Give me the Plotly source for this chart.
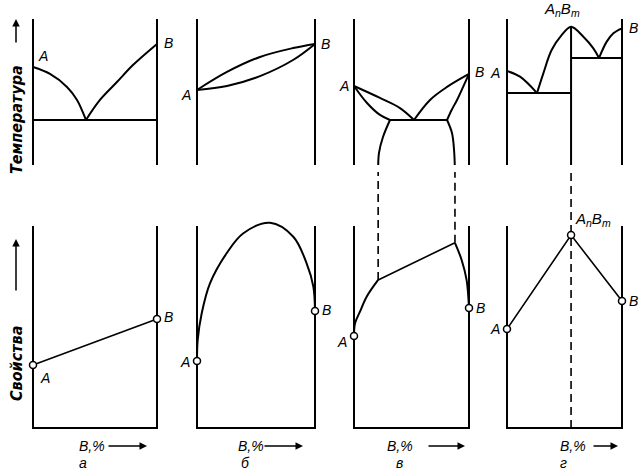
import plotly.graph_objects as go

W, H = 644, 475

# ---------------- data (composition, % B; temperature / property in relative units) ----------------
# panel а – simple eutectic
a_liq_left_x = [0, 13.7, 27.4, 35.5, 42.7]
a_liq_left_t = [68.6, 64.1, 55.6, 47.1, 34.0]
a_liq_right_x = [42.7, 54.0, 67.7, 80.6, 100]
a_liq_right_t = [34.0, 47.1, 58.8, 69.9, 83.7]
a_eut_x = [0, 100]
a_eut_t = [34.0, 34.0]
a_prop_x = [0, 100]
a_prop_y = [31.2, 54.0]

# panel б – continuous solid solutions
b_liq_x = [0, 25.4, 53.4, 81.4, 100]
b_liq_t = [53.6, 65.4, 75.2, 81.0, 83.7]
b_sol_x = [0, 25.4, 53.4, 81.4, 100]
b_sol_t = [53.6, 56.2, 62.7, 73.2, 83.7]
b_prop_x = [0, 0.6, 4.0, 11.0, 25.1, 39.3, 61.9, 81.6, 92.9, 98.6, 100]
b_prop_y = [33.2, 43.6, 56.8, 71.6, 86.5, 96.4, 101.6, 94.7, 81.5, 70.0, 57.9]

# panel в – limited solid solutions with eutectic
c_liq_left_x = [0, 22.6, 40.0, 52.2]
c_liq_left_t = [56.2, 48.4, 41.8, 34.0]
c_sol_left_x = [0, 11.3, 22.6, 31.3]
c_sol_left_t = [56.2, 45.1, 37.3, 34.0]
c_liq_right_x = [52.2, 66.1, 80.9, 100]
c_liq_right_t = [34.0, 47.1, 55.6, 64.1]
c_sol_right_x = [80.9, 84.9, 89.6, 95.0, 100]
c_sol_right_t = [34.0, 40.5, 47.1, 55.8, 64.1]
c_eut_x = [31.3, 80.9]
c_eut_t = [34.0, 34.0]
c_solv_left_x = [31.3, 25.2, 21.7, 21.0]
c_solv_left_t = [34.0, 22.9, 12.4, 0]
c_solv_right_x = [80.9, 85.2, 87.0, 87.8]
c_solv_right_t = [34.0, 25.5, 14.4, 0]
c_prop_left_x = [0, 0.9, 5.2, 11.0, 21.0]
c_prop_left_y = [45.5, 51.8, 57.6, 65.0, 73.3]
c_prop_mid_x = [21.0, 87.8]
c_prop_mid_y = [73.3, 91.7]
c_prop_right_x = [87.8, 93.6, 97.9, 100]
c_prop_right_y = [91.7, 83.2, 73.3, 59.4]

# panel г – chemical compound AnBm
d_comp = 55.7
d_liq1_x = [0, 11.3, 26.1]
d_liq1_t = [66.0, 62.3, 51.6]
d_liq2_x = [26.1, 31.6, 38.8, 47.5, 55.7, 66.4, 75.1, 80.0]
d_liq2_t = [51.6, 64.5, 79.7, 89.5, 95.0, 88.4, 80.8, 74.5]
d_liq3_x = [80.0, 86.7, 92.5, 100]
d_liq3_t = [74.5, 85.2, 90.7, 93.9]
d_eut1_x = [0, d_comp]
d_eut1_t = [51.6, 51.6]
d_eut2_x = [d_comp, 100]
d_eut2_t = [74.5, 74.5]
d_prop_x = [0, d_comp, 100]
d_prop_y = [49.0, 95.5, 62.9]

x_letters = ["а", "б", "в", "г"]
x_caption = "B,%"
y_titles = ["Температура", "Свойства"]

# ---------------- layout geometry (pixels) ----------------
panel_px = [(33, 157), (197, 315), (354, 469), (507, 622)]
top_y100, top_y0 = 19, 172
bot_y100, bot_y0 = 226, 428
XR = (-6, 106)
TR = (-6, 106)
t_scale = (top_y0 - top_y100) / 100.0
p_scale = (bot_y0 - bot_y100) / 100.0
link_val = (bot_y0 - top_y0) / p_scale          # bottom edge of upper panels, in lower-panel units
PR = (-6, (bot_y0 - 165) / p_scale)

FONT = "Liberation Sans, Arial, sans-serif"
TFONT = "Liberation Sans Narrow, DejaVu Sans Condensed, Liberation Sans, sans-serif"
LS = 14

fig = go.Figure()


def ax(i):
    return ("x" if i == 1 else f"x{i}"), ("y" if i == 1 else f"y{i}")


def line(i, xs, ys, width=2.0, dash="solid", shape="linear"):
    xa, ya = ax(i)
    fig.add_trace(go.Scatter(x=xs, y=ys, xaxis=xa, yaxis=ya, mode="lines",
                             line=dict(color="black", width=width, dash=dash, shape=shape,
                                       smoothing=1.0),
                             hoverinfo="skip", showlegend=False))


def dots(i, xs, ys):
    xa, ya = ax(i)
    fig.add_trace(go.Scatter(x=xs, y=ys, xaxis=xa, yaxis=ya, mode="markers",
                             marker=dict(symbol="circle", size=7, color="white",
                                         line=dict(color="black", width=1.5)),
                             cliponaxis=False, hoverinfo="skip", showlegend=False))


def label(i, x, y, text, xanchor="left", xshift=0, yshift=0, size=LS):
    xa, ya = ax(i)
    fig.add_annotation(x=x, y=y, xref=xa, yref=ya, text=f"<i>{text}</i>", showarrow=False,
                       xanchor=xanchor, yanchor="middle", xshift=xshift, yshift=yshift,
                       font=dict(size=size, family=FONT, color="black"))


def arrow(x_head, y_head, dx, dy):
    fig.add_annotation(x=x_head / W, y=1 - y_head / H, xref="paper", yref="paper", text="",
                       showarrow=True, ax=dx, ay=dy, axref="pixel", ayref="pixel",
                       arrowhead=2, arrowsize=1, arrowwidth=1.5, arrowcolor="black")


layout_axes = {}
for k, (l, r) in enumerate(panel_px):
    sx = (r - l) / 100.0
    xd = [(l + XR[0] * sx) / W, (l + XR[1] * sx) / W]
    for row in (0, 1):
        i = k + 1 + 4 * row
        xa, ya = ax(i)
        xname = "xaxis" if i == 1 else f"xaxis{i}"
        yname = "yaxis" if i == 1 else f"yaxis{i}"
        if row == 0:
            yd = [1 - (top_y0 - TR[0] * t_scale) / H, 1 - (top_y0 - TR[1] * t_scale) / H]
            yr = list(TR)
        else:
            yd = [1 - (bot_y0 - PR[0] * p_scale) / H, 1 - (bot_y0 - PR[1] * p_scale) / H]
            yr = list(PR)
        layout_axes[xname] = dict(domain=xd, range=list(XR), visible=False, anchor=ya)
        layout_axes[yname] = dict(domain=yd, range=yr, visible=False, anchor=xa)

# boxes
for i in range(1, 9):
    line(i, [0, 0, 100, 100], [100, 0, 0, 100], width=2)

# ---- а ----
line(1, a_liq_left_x, a_liq_left_t, shape="spline")
line(1, a_liq_right_x, a_liq_right_t, shape="spline")
line(1, a_eut_x, a_eut_t)
line(5, a_prop_x, a_prop_y, width=1.6)
dots(5, a_prop_x, a_prop_y)
label(1, 0, a_liq_left_t[0], "A", xshift=3, yshift=11)
label(1, 100, a_liq_right_t[-1], "B", xshift=5, yshift=1)
label(5, 0, a_prop_y[0], "A", xshift=5, yshift=-13)
label(5, 100, a_prop_y[1], "B", xshift=5, yshift=2)

# ---- б ----
line(2, b_liq_x, b_liq_t, shape="spline")
line(2, b_sol_x, b_sol_t, shape="spline")
line(6, b_prop_x, b_prop_y, shape="spline")
dots(6, [b_prop_x[0], b_prop_x[-1]], [b_prop_y[0], b_prop_y[-1]])
label(2, 0, b_liq_t[0], "A", xanchor="right", xshift=-4, yshift=-5)
label(2, 100, b_liq_t[-1], "B", xshift=4, yshift=0)
label(6, 0, b_prop_y[0], "A", xanchor="right", xshift=-5, yshift=-1)
label(6, 100, b_prop_y[-1], "B", xshift=5, yshift=1)

# ---- в ----
line(3, c_liq_left_x, c_liq_left_t, shape="spline")
line(3, c_sol_left_x, c_sol_left_t, shape="spline")
line(3, c_liq_right_x, c_liq_right_t, shape="spline")
line(3, c_sol_right_x, c_sol_right_t, shape="spline")
line(3, c_eut_x, c_eut_t)
line(3, c_solv_left_x, c_solv_left_t, shape="spline")
line(3, c_solv_right_x, c_solv_right_t, shape="spline")
line(7, c_prop_left_x, c_prop_left_y, shape="spline")
line(7, c_prop_mid_x, c_prop_mid_y, width=1.6)
line(7, c_prop_right_x, c_prop_right_y, shape="spline")
line(7, [c_prop_mid_x[0], c_prop_mid_x[0]], [c_prop_mid_y[0], link_val], width=1.6, dash="8px,5px")
line(7, [c_prop_mid_x[1], c_prop_mid_x[1]], [c_prop_mid_y[1], link_val], width=1.6, dash="8px,5px")
dots(7, [c_prop_left_x[0], c_prop_right_x[-1]], [c_prop_left_y[0], c_prop_right_y[-1]])
label(3, 0, c_liq_left_t[0], "A", xanchor="right", xshift=-3, yshift=0)
label(3, 100, c_liq_right_t[-1], "B", xshift=4, yshift=2)
label(7, 0, c_prop_left_y[0], "A", xanchor="right", xshift=-5, yshift=-6)
label(7, 100, c_prop_right_y[-1], "B", xshift=5, yshift=0)

# ---- г ----
line(4, d_liq1_x, d_liq1_t, shape="spline")
line(4, d_liq2_x, d_liq2_t, shape="spline")
line(4, d_liq3_x, d_liq3_t, shape="spline")
line(4, d_eut1_x, d_eut1_t)
line(4, d_eut2_x, d_eut2_t)
line(4, [d_comp, d_comp], [0, d_liq2_t[4]])
line(8, d_prop_x, d_prop_y, width=1.6)
line(8, [d_comp, d_comp], [0, link_val], width=1.6, dash="8px,5px")
dots(8, d_prop_x, d_prop_y)
label(4, 0, d_liq1_t[0], "A", xanchor="right", xshift=-5, yshift=-2)
label(4, 100, d_liq3_t[-1], "B", xshift=5, yshift=0)
label(4, d_comp, d_liq2_t[4], "A<sub>n</sub>B<sub>m</sub>", xanchor="center", xshift=-9, yshift=17, size=15)
label(8, 0, d_prop_y[0], "A", xanchor="right", xshift=-5, yshift=0)
label(8, 100, d_prop_y[-1], "B", xshift=5, yshift=0)
label(8, d_comp, d_prop_y[1], "A<sub>n</sub>B<sub>m</sub>", xanchor="left", xshift=2, yshift=16, size=15)

# ---- x captions "B,% →" and panel letters ----
cap_px = [(77, 107, 147, 83), (236, 263, 303, 245), (385, 427, 465, 400), (558, 592, 618, 563)]
for k, (tx, a0, a1, lx) in enumerate(cap_px):
    fig.add_annotation(x=tx / W, y=1 - 446 / H, xref="paper", yref="paper", text=f"<i>{x_caption}</i>",
                       showarrow=False, xanchor="left", yanchor="middle",
                       font=dict(size=LS, family=FONT, color="black"))
    arrow(a1, 446, -(a1 - a0), 0)
    fig.add_annotation(x=lx / W, y=1 - 463 / H, xref="paper", yref="paper",
                       text=f"<i>{x_letters[k]}</i>", showarrow=False, xanchor="center",
                       yanchor="middle", font=dict(size=LS, family=FONT, color="black"))

# ---- y captions ----
fig.add_annotation(x=16 / W, y=1 - 120 / H, xref="paper", yref="paper", text=f"<b><i>{y_titles[0]}</i></b>",
                   textangle=-90, showarrow=False, xanchor="center", yanchor="middle",
                   font=dict(size=16, family=TFONT, color="black"))
arrow(16, 19, 0, 25)
fig.add_annotation(x=16 / W, y=1 - 364 / H, xref="paper", yref="paper", text=f"<b><i>{y_titles[1]}</i></b>",
                   textangle=-90, showarrow=False, xanchor="center", yanchor="middle",
                   font=dict(size=16, family=TFONT, color="black"))
arrow(16, 239, 0, 53)

fig.update_layout(width=W, height=H, margin=dict(l=0, r=0, t=0, b=0),
                  paper_bgcolor="white", plot_bgcolor="white", showlegend=False,
                  hovermode=False, **layout_axes)

fig.write_html("out.html", config={"displayModeBar": False, "staticPlot": True},
               post_script="document.body.style.margin='0px';")
